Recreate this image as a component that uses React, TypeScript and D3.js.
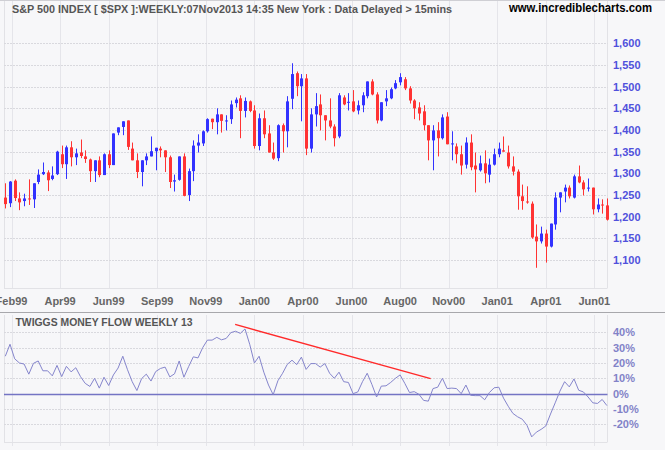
import React from 'react';
import * as d3 from 'd3';

// Weekly S&P 500 candles (Feb 1999 - Jun 2001)
const opens = [
  1244,1231,1283,1242,1236,1242,1240,1280,1298,1302,
  1287,1298,1344,1321,1360,1337,1348,1339,1332,1305,
  1330,1296,1344,1319,1394,1407,1422,1357,1330,1303,
  1330,1339,1351,1357,1353,1337,1281,1285,1339,1250,
  1305,1364,1369,1397,1426,1418,1436,1421,1425,1462,
  1473,1444,1466,1445,1363,1427,1392,1348,1335,1411,
  1397,1472,1531,1501,1519,1357,1436,1459,1434,1422,
  1408,1385,1475,1464,1466,1445,1457,1478,1512,1482,
  1422,1466,1473,1496,1510,1517,1496,1468,1452,1443,
  1411,1376,1399,1381,1431,1367,1362,1344,1320,1371,
  1318,1307,1323,1297,1320,1344,1353,1348,1316,1304,
  1247,1235,1230,1154,1143,1161,1131,1182,1244,1258,
  1267,1244,1293,1279,1266,1267,1217,1228,1226,
];
const highs = [
  1277,1282,1286,1256,1253,1286,1277,1309,1325,1307,
  1316,1352,1364,1364,1374,1357,1378,1353,1334,1330,
  1339,1346,1353,1392,1406,1420,1422,1371,1346,1330,
  1346,1385,1359,1362,1353,1341,1297,1339,1346,1311,
  1376,1390,1399,1427,1426,1450,1436,1434,1468,1475,
  1480,1475,1468,1457,1438,1445,1411,1371,1413,1415,
  1478,1554,1535,1529,1529,1450,1485,1482,1434,1473,
  1413,1485,1480,1485,1492,1468,1487,1512,1517,1487,
  1464,1492,1498,1515,1531,1522,1501,1471,1464,1457,
  1411,1411,1418,1436,1441,1397,1369,1364,1383,1390,
  1348,1341,1353,1334,1357,1371,1385,1364,1339,1309,
  1274,1270,1235,1182,1177,1170,1184,1256,1256,1274,
  1272,1297,1318,1284,1288,1267,1242,1240,1242,
];
const lows = [
  1219,1222,1236,1215,1224,1227,1220,1275,1296,1259,
  1284,1296,1312,1287,1316,1319,1335,1324,1280,1280,
  1291,1296,1312,1319,1388,1388,1354,1330,1289,1270,
  1319,1339,1307,1337,1303,1266,1258,1283,1247,1236,
  1282,1348,1363,1394,1402,1390,1394,1399,1414,1452,
  1381,1429,1441,1357,1353,1381,1348,1331,1328,1348,
  1360,1448,1478,1420,1342,1348,1408,1399,1376,1404,
  1362,1381,1457,1445,1441,1436,1441,1473,1480,1415,
  1420,1455,1471,1494,1503,1492,1461,1425,1422,1399,
  1330,1307,1339,1378,1367,1330,1323,1297,1311,1307,
  1256,1304,1277,1279,1318,1337,1350,1311,1295,1216,
  1216,1230,1149,1082,1138,1094,1129,1170,1210,1233,
  1242,1242,1277,1249,1258,1205,1210,1207,1191,
];
const closes = [
  1229,1281,1243,1233,1242,1240,1277,1297,1303,1284,
  1295,1350,1321,1360,1337,1346,1340,1333,1305,1330,
  1296,1344,1319,1392,1406,1420,1361,1330,1303,1330,
  1339,1351,1359,1353,1337,1280,1284,1339,1248,1305,
  1364,1371,1397,1425,1418,1436,1421,1422,1459,1470,
  1444,1467,1444,1363,1427,1390,1348,1334,1411,1397,
  1466,1529,1501,1519,1357,1436,1455,1434,1422,1408,
  1381,1480,1459,1465,1443,1457,1480,1512,1482,1422,
  1464,1473,1494,1508,1522,1496,1468,1450,1438,1411,
  1376,1399,1381,1429,1367,1369,1344,1318,1371,1314,
  1309,1323,1300,1320,1344,1357,1350,1316,1304,1247,
  1236,1233,1152,1143,1161,1131,1184,1244,1256,1267,
  1247,1293,1279,1263,1267,1217,1228,1227,1193,
];

// Twiggs Money Flow (13 week), percent
const moneyFlow = [
  24.4,32.2,22.7,20,19.3,12.7,19.8,21.3,14.9,14.9,
  11.6,18.4,11.1,17.8,14.2,16.9,11.1,6.7,4.7,10,
  3.6,10.7,5.3,12.2,16.7,24.4,15.6,7.8,2,9.8,
  12.7,8.2,14.4,16.4,17.3,10.9,12.9,21.3,10.7,17.6,
  24,23.3,30,34.9,34.9,36.7,35.1,36,39.8,40.7,
  39.3,42.2,32.2,20,24.4,14,5.6,-0.7,8.4,13.3,
  19.1,21.8,18.9,23.8,15.8,19.6,19.6,17.3,19.6,13.3,
  10,14,7.8,7.3,0,1.1,7.8,13.3,6,-2.2,
  4.9,5.1,7.3,10,12.2,6.7,0.7,1.3,-0.4,-4.4,
  -4.9,3.3,4.2,10,3.3,3.6,3.3,0,5.6,-1.1,
  -1.3,-1.3,-4,0.7,3.8,4.2,-2.9,-8.2,-12.9,-15.1,
  -16.7,-20.7,-28.2,-25.1,-23.3,-21.1,-13.3,-6,1.6,7.8,
  4.4,9.6,2.2,1.1,-2.2,-6,-6.4,-3.8,-7.8,
];

// Trend line drawn on the money-flow panel: [week index, percent]
const trendWeeks = [48.9, 90.5];
const trendValues = [45.1, 9.8];

const xTickLabels = ['Feb99','Apr99','Jun99','Sep99','Nov99','Jan00','Apr00','Jun00','Aug00','Nov00','Jan01','Apr01','Jun01'];
const xTickWeeks = [1.32,11.65,21.99,32.32,42.66,52.99,63.33,73.66,84.0,94.33,104.66,115.0,125.33];
const priceTicks = [1100,1150,1200,1250,1300,1350,1400,1450,1500,1550,1600];
const mfTicks = [-20,-10,0,10,20,30,40];

const TITLE = 'S&P 500 INDEX [ $SPX ]:WEEKLY:07Nov2013 14:35 New York : Data Delayed > 15mins';
const SITE = 'www.incrediblecharts.com';
const IND_TITLE = 'TWIGGS MONEY FLOW WEEKLY 13';

const W = 665, H = 450;
const PL = 4, PR = 607.5;
const TOP_Y1 = 288;
const LOW_Y0 = 315, LOW_Y1 = 442;
const FONT = '"Liberation Sans", Arial, sans-serif';
const BLUE = '#3232ff';
const RED = '#ff3333';

export default function App() {
  const n = closes.length;
  const x = d3.scaleLinear().domain([0, n - 1]).range([5.3, 606.9]);
  const y = d3.scaleLinear().domain([1100, 1600]).range([260, 43.3]);
  const ym = d3.scaleLinear().domain([-20, 40]).range([424.3, 332.3]);

  const mfLine = d3.line<number>().x((_, i) => x(i)).y((d) => ym(d))(moneyFlow) || '';
  const trendLine = d3.line<number>().x((_, i) => x(trendWeeks[i])).y((d) => ym(d))(trendValues) || '';

  const candles = closes.map((c, i) => {
    const o = opens[i];
    const up = c >= o;
    const col = up ? BLUE : RED;
    const cx = Math.round(x(i));
    const top = Math.min(y(o), y(c));
    const bot = Math.max(y(o), y(c));
    return (
      <g key={i}>
        <line x1={cx + 0.5} x2={cx + 0.5} y1={y(highs[i])} y2={y(lows[i])} stroke={col} strokeWidth={1} />
        <rect x={cx - 1} y={top} width={3} height={Math.max(1, bot - top)} fill={col} />
      </g>
    );
  });

  return (
    <div style={{ position: 'absolute', left: 0, top: 0 }}>
      <svg width={W} height={H} style={{ display: 'block' }}>
        <rect x={0} y={0} width={W} height={H} fill="#f7f7f9" />
        <line x1={0} x2={W} y1={0.5} y2={0.5} stroke="#cfcfd4" />

        {/* vertical grid lines */}
        {xTickWeeks.map((w, i) => (
          <g key={'vg' + i}>
            <line x1={Math.round(x(w)) + 0.5} x2={Math.round(x(w)) + 0.5} y1={1} y2={TOP_Y1} stroke="#e5e5ea" />
            <line x1={Math.round(x(w)) + 0.5} x2={Math.round(x(w)) + 0.5} y1={LOW_Y0} y2={446} stroke="#e5e5ea" />
          </g>
        ))}
        {/* panel borders */}
        <line x1={PL + 0.5} x2={PL + 0.5} y1={1} y2={TOP_Y1} stroke="#e2e2e6" />
        <line x1={PR} x2={PR} y1={1} y2={TOP_Y1} stroke="#e2e2e6" />
        <line x1={PL} x2={PR} y1={TOP_Y1 + 0.5} y2={TOP_Y1 + 0.5} stroke="#e2e2e6" />
        <line x1={PL + 0.5} x2={PL + 0.5} y1={LOW_Y0} y2={LOW_Y1} stroke="#e2e2e6" />
        <line x1={PR} x2={PR} y1={LOW_Y0} y2={LOW_Y1} stroke="#e2e2e6" />
        <line x1={PL} x2={PR} y1={LOW_Y1 + 0.5} y2={LOW_Y1 + 0.5} stroke="#e2e2e6" />
        <line x1={0} x2={W} y1={312.5} y2={312.5} stroke="#a8a8ac" />

        {/* horizontal price grid */}
        {priceTicks.map((p) => (
          <line key={'hp' + p} x1={PL} x2={PR} y1={Math.round(y(p)) + 0.5} y2={Math.round(y(p)) + 0.5}
            stroke="#d9d9de" strokeDasharray="2,1" />
        ))}
        {mfTicks.filter((t) => t !== 0).map((t) => (
          <line key={'hm' + t} x1={PL} x2={PR} y1={Math.round(ym(t)) + 0.5} y2={Math.round(ym(t)) + 0.5}
            stroke="#d9d9de" strokeDasharray="2,1" />
        ))}

        {/* title */}
        <text x={12} y={9} dominantBaseline="central" fontFamily={FONT} fontWeight="bold" fontSize={10.5}
          fill="#555" textLength={440} lengthAdjust="spacingAndGlyphs">{TITLE}</text>
        <text x={509} y={11.7} fontFamily={FONT} fontWeight="bold"
          fontSize={12} fill="#000" textLength={143} lengthAdjust="spacingAndGlyphs">{SITE}</text>

        {/* candles */}
        {candles}

        {/* price labels */}
        {priceTicks.map((p) => (
          <text key={'pl' + p} x={613} y={y(p)} dominantBaseline="central" fontFamily={FONT} fontWeight="bold"
            fontSize={11} fill="#5050dc">{d3.format(',')(p)}</text>
        ))}

        {/* x labels */}
        {xTickLabels.map((l, i) => (
          <text key={'xl' + i} x={x(xTickWeeks[i])} y={300.5} dominantBaseline="central" textAnchor="middle"
            fontFamily={FONT} fontWeight="bold" fontSize={11} fill="#666">{l}</text>
        ))}

        {/* money flow panel */}
        <text x={15.5} y={321.5} dominantBaseline="central" fontFamily={FONT} fontWeight="bold" fontSize={11}
          fill="#555" textLength={177} lengthAdjust="spacingAndGlyphs">{IND_TITLE}</text>
        <line x1={PL} x2={PR} y1={Math.round(ym(0)) + 0.5} y2={Math.round(ym(0)) + 0.5} stroke="#7474c4" strokeWidth={1.3} />
        <path d={mfLine} fill="none" stroke="#8585cc" strokeWidth={1} />
        <path d={trendLine} fill="none" stroke="#ff2a2a" strokeWidth={1.3} />
        {mfTicks.map((t) => (
          <text key={'ml' + t} x={613} y={ym(t)} dominantBaseline="central" fontFamily={FONT} fontWeight="bold"
            fontSize={11} fill="#8282c8">{t + '%'}</text>
        ))}
      </svg>
    </div>
  );
}
